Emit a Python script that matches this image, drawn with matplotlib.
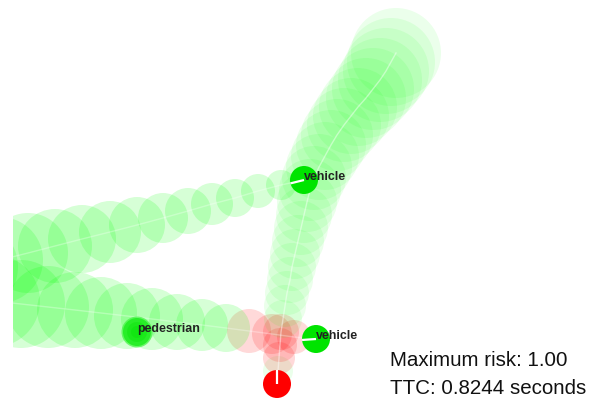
import numpy as np
import matplotlib
matplotlib.use("Agg")
import matplotlib.pyplot as plt
from matplotlib.patches import Circle

# canvas size in pixels (scene coordinates are screen pixels, y pointing down)
W, H = 602, 403
LEFT = 13

# ego agent (red) and its predicted trail
ego_pos = (277, 384)
ego_heading = -90
ego_trail_x = [278, 279, 280, 281, 283, 285, 287, 290, 292, 295, 298, 301, 304, 307, 310,
               314, 319, 325, 331, 337, 344, 351, 358, 366, 373, 380, 386, 391, 396]
ego_trail_y = [371, 358, 345, 332, 319, 306, 293, 280, 267, 254, 241, 228, 215, 202, 190,
               178, 167, 156, 145, 135, 125, 116, 107, 98, 89, 80, 71, 62, 53]
ego_trail_r = [15, 16, 17, 18, 19, 21, 22, 23, 24, 25, 26, 27, 28, 30, 31,
               32, 33, 34, 35, 36, 37, 38, 39, 40, 41, 42, 43, 44, 45]
ego_trail_risk = [0, 1, 1, 1, 0, 0, 0, 0, 0, 0, 0, 0, 0, 0, 0,
                  0, 0, 0, 0, 0, 0, 0, 0, 0, 0, 0, 0, 0, 0]

# vehicle 1 (upper) and its trail to the left
veh1_pos = (304, 180)
veh1_heading = 166
veh1_trail_x = [281, 258, 235, 212, 188, 163, 137, 110, 82, 55, 28, 0, -28]
veh1_trail_y = [185, 191, 198, 204, 211, 218, 225, 232, 239, 246, 253, 260, 267]
veh1_trail_r = [15, 17, 19, 21, 23, 25, 28, 31, 34, 37, 40, 43, 46]
veh1_trail_risk = [0] * 13

# vehicle 2 (lower) and its trail to the left
veh2_pos = (316, 339)
veh2_heading = 176
veh2_trail_x = [294, 272, 249, 226, 202, 177, 152, 127, 101, 75, 48, 21, -6]
veh2_trail_y = [337, 334, 331, 328, 325, 322, 319, 316, 313, 310, 307, 304, 301]
veh2_trail_r = [17, 20, 22, 24, 26, 28, 31, 33, 36, 38, 41, 44, 46]
veh2_trail_risk = [1, 1, 1, 0, 0, 0, 0, 0, 0, 0, 0, 0, 0]

# pedestrian (standing still)
ped_pos = (137, 332)

agent_labels = ["vehicle", "vehicle", "pedestrian"]
max_risk = 1.00
ttc = 0.8244

AGENT_R = 14
GREEN = "#00e400"
RED = "#ff0000"


def draw_trail(ax, start, xs, ys, rs, risk, alpha, line_alpha):
    for x, y, r, k in zip(xs, ys, rs, risk):
        color = RED if k else "#00ff00"
        a = 0.15 if k else alpha
        ax.add_patch(Circle((x, y), r, facecolor=color, alpha=a,
                            edgecolor="none", zorder=2))
    ax.plot([start[0]] + xs, [start[1]] + ys, color="white", lw=1.0,
            alpha=line_alpha, zorder=3)


def draw_agent(ax, pos, color, heading):
    ax.add_patch(Circle(pos, AGENT_R, facecolor=color, edgecolor="none",
                        zorder=5))
    if heading is not None:
        a = np.deg2rad(heading)
        ax.plot([pos[0], pos[0] + AGENT_R * np.cos(a)],
                [pos[1], pos[1] + AGENT_R * np.sin(a)],
                color="white", lw=1.6, zorder=6, solid_capstyle="butt")


def main():
    fig = plt.figure(figsize=(W / 100, H / 100), dpi=100)
    ax = fig.add_axes([LEFT / W, 0, 1 - LEFT / W, 1])
    ax.set_xlim(LEFT, W)
    ax.set_ylim(H, 0)
    ax.axis("off")

    # trails
    draw_trail(ax, veh2_pos, veh2_trail_x, veh2_trail_y, veh2_trail_r,
               veh2_trail_risk, 0.16, 0.3)
    draw_trail(ax, veh1_pos, veh1_trail_x, veh1_trail_y, veh1_trail_r,
               veh1_trail_risk, 0.16, 0.3)
    draw_trail(ax, ego_pos, ego_trail_x, ego_trail_y, ego_trail_r,
               ego_trail_risk, 0.08, 0.45)

    # agents
    draw_agent(ax, veh1_pos, GREEN, veh1_heading)
    draw_agent(ax, veh2_pos, GREEN, veh2_heading)
    draw_agent(ax, ego_pos, RED, ego_heading)

    # pedestrian drawn as a soft blob
    ax.add_patch(Circle(ped_pos, 15.5, facecolor="#40f540", edgecolor="none",
                        alpha=0.7, zorder=5))
    ax.add_patch(Circle(ped_pos, 14, facecolor="#28ee28", edgecolor="none",
                        zorder=5))
    for rr in [10, 6]:
        ax.add_patch(Circle(ped_pos, rr, facecolor="#00e000", edgecolor="none",
                            alpha=0.3, zorder=5))

    # labels next to agents
    for pos, lab in zip([veh1_pos, veh2_pos, ped_pos], agent_labels):
        ax.text(pos[0], pos[1] - 3, lab, ha="left", va="center",
                fontsize=8.9, fontweight="bold", color="#222222",
                family="Liberation Sans", zorder=7)

    ax.text(390, 366, "Maximum risk: %.2f" % max_risk, ha="left",
            va="baseline", fontsize=14.8, color="#111111",
            family="Liberation Sans")
    ax.text(390, 394, "TTC: %.4f seconds" % ttc, ha="left",
            va="baseline", fontsize=14.8, color="#111111",
            family="Liberation Sans")

    fig.savefig("out.png", dpi=100)


if __name__ == "__main__":
    main()
